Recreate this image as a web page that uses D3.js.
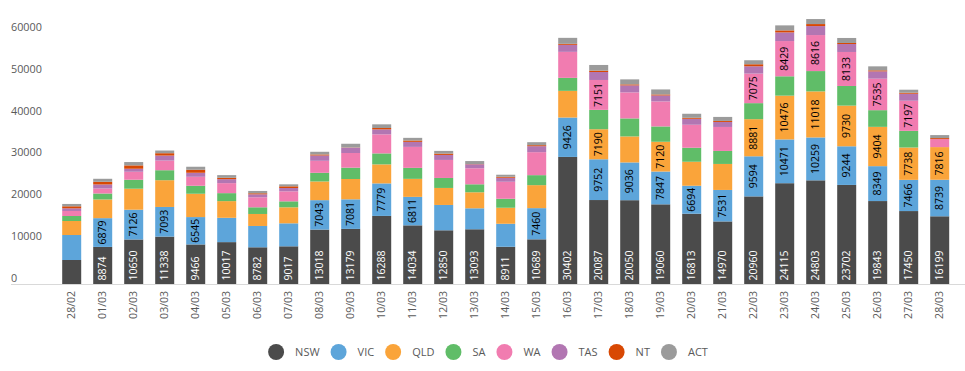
<!DOCTYPE html>
<html>
<head>
<meta charset="utf-8">
<script src="https://cdn.jsdelivr.net/npm/d3@7"></script>
<style>
  body { margin: 0; background: #fff; }
  svg { font-family: "Open Sans", "Segoe UI", sans-serif; }
</style>
</head>
<body>
<svg id="chart" width="965" height="371"></svg>
<script>
// dates on the x axis
var dates = ["28/02","01/03","02/03","03/03","04/03","05/03","06/03","07/03","08/03","09/03",
  "10/03","11/03","12/03","13/03","14/03","15/03","16/03","17/03","18/03","19/03",
  "20/03","21/03","22/03","23/03","24/03","25/03","26/03","27/03","28/03"];

// one array per state (stack order, bottom to top)
var nsw = [5740,8874,10650,11338,9466,10017,8782,9017,13018,13179,16288,14034,12850,13093,8911,10689,30402,20087,20050,19060,16813,14970,20960,24115,24803,23702,19843,17450,16199];
var vic = [5980,6879,7126,7093,6545,5820,5100,5500,7043,7081,7779,6811,6060,5020,5500,7460,9426,9752,9036,7847,6694,7531,9594,10471,10259,9244,8349,7466,8739];
var qld = [3350,4470,5020,6400,5580,3990,2870,3830,4470,4860,4550,4310,4070,3830,3830,5500,6380,7190,6220,7120,5740,6220,8881,10476,11018,9730,9404,7738,7816];
var sa  = [1200,1430,2150,2390,1910,1910,1600,1430,2070,2710,2630,2630,2390,1910,2150,2390,3110,4630,4310,3670,3350,3110,3830,4630,4860,4700,3990,3990,0];
var wa  = [1200,1200,1910,2310,2150,2390,2390,2390,2870,3510,4550,5020,4310,3830,4070,5500,6220,7151,6220,5980,5500,5740,7075,8429,8616,8133,7535,7197,1910];
var tas = [640,960,720,1200,960,960,720,800,1280,1280,1200,1200,1200,960,960,1430,1680,1910,1680,1430,1430,1200,1750,2070,2150,1910,1750,1680,0];
var nt  = [480,640,800,560,720,320,240,400,240,50,320,320,320,50,240,240,240,320,240,240,240,240,480,480,480,240,240,240,240];
var act = [560,720,800,640,720,640,560,480,640,880,880,640,640,720,480,720,1430,1360,1200,1200,960,960,960,1200,1200,1200,960,720,720];

var seriesNames = ["NSW","VIC","QLD","SA","WA","TAS","NT","ACT"];
var seriesData = [nsw, vic, qld, sa, wa, tas, nt, act];
var colors = ["#4b4b4b","#5da5da","#faa43a","#60bd68","#f17cb0","#b276b2","#d84803","#9b9b9b"];
var yTicks = [0,10000,20000,30000,40000,50000,60000];

var svg = d3.select("#chart");

// build rows for d3.stack
var rows = dates.map(function(d, i) {
  var r = { date: d };
  seriesNames.forEach(function(s, j) { r[s] = seriesData[j][i]; });
  return r;
});
var stacked = d3.stack().keys(seriesNames)(rows);

var x = d3.scaleBand().domain(dates).range([56.2, 955.2]).paddingInner(0.387).paddingOuter(0.1935);
var y = d3.scaleLinear().domain([0, 60000]).range([284, 33.2]);

// y axis labels only
var yAxis = svg.append("g").call(d3.axisLeft(y).tickValues(yTicks).tickSize(0).tickFormat(d3.format("d")));
yAxis.select(".domain").remove();
yAxis.selectAll("text")
  .attr("x", 11).attr("dy", "-0.25em")
  .attr("text-anchor", "start")
  .style("font-size", "10.8px").style("fill", "#595959")
  .style("font-family", "'Open Sans', sans-serif");

// bars
var layer = svg.selectAll(".layer")
  .data(stacked)
  .enter().append("g")
  .attr("class", "layer")
  .attr("fill", function(d, i) { return colors[i]; });

layer.selectAll("rect")
  .data(function(d) { return d; })
  .enter().append("rect")
  .attr("x", function(d) { return x(d.data.date); })
  .attr("width", x.bandwidth())
  .attr("y", function(d) { return y(d[1]); })
  .attr("height", function(d) { return y(d[0]) - y(d[1]); });

// data labels (only on the larger segments)
stacked.forEach(function(s, si) {
  s.forEach(function(d) {
    var v = d[1] - d[0];
    if (v < 6500) return;
    var cx = x(d.data.date) + x.bandwidth() / 2;
    var t = svg.append("text")
      .style("font-size", "10.5px")
      .attr("dy", "0.35em")
      .text(v);
    if (si === 0) {
      t.attr("transform", "translate(" + cx + "," + (y(0) - 3.5) + ") rotate(-90)")
        .attr("text-anchor", "start").style("fill", "#fff");
    } else {
      t.attr("transform", "translate(" + cx + "," + ((y(d[0]) + y(d[1])) / 2) + ") rotate(-90)")
        .attr("text-anchor", "middle").style("fill", "#000");
    }
  });
});

// x axis
svg.append("line")
  .attr("x1", 11).attr("x2", 965)
  .attr("y1", 284.5).attr("y2", 284.5)
  .attr("stroke", "#d9d9d9").attr("stroke-width", 1);

var xAxis = svg.append("g")
  .attr("transform", "translate(0,284)")
  .call(d3.axisBottom(x).tickSize(0));
xAxis.select(".domain").remove();
xAxis.selectAll("text")
  .attr("transform", "rotate(-90)")
  .attr("x", -7).attr("y", 0).attr("dy", "0.35em")
  .attr("text-anchor", "end")
  .style("font-size", "10.5px").style("fill", "#595959")
  .style("font-family", "'Open Sans', sans-serif");

// legend
var legend = svg.append("g").attr("class", "legend");
var lx = 0;
seriesNames.forEach(function(name, i) {
  var g = legend.append("g").attr("transform", "translate(" + lx + ",0)");
  g.append("circle").attr("cx", 8).attr("cy", 0).attr("r", 8).attr("fill", colors[i]);
  var t = g.append("text").attr("x", 27).attr("y", 0).attr("dy", "0.35em")
    .style("font-size", "11px").style("fill", "#595959").text(name);
  lx += 27 + t.node().getComputedTextLength() + 11;
});
var legendWidth = lx - 11;
legend.attr("transform", "translate(" + (488 - legendWidth / 2) + ",352)");
</script>
</body>
</html>
